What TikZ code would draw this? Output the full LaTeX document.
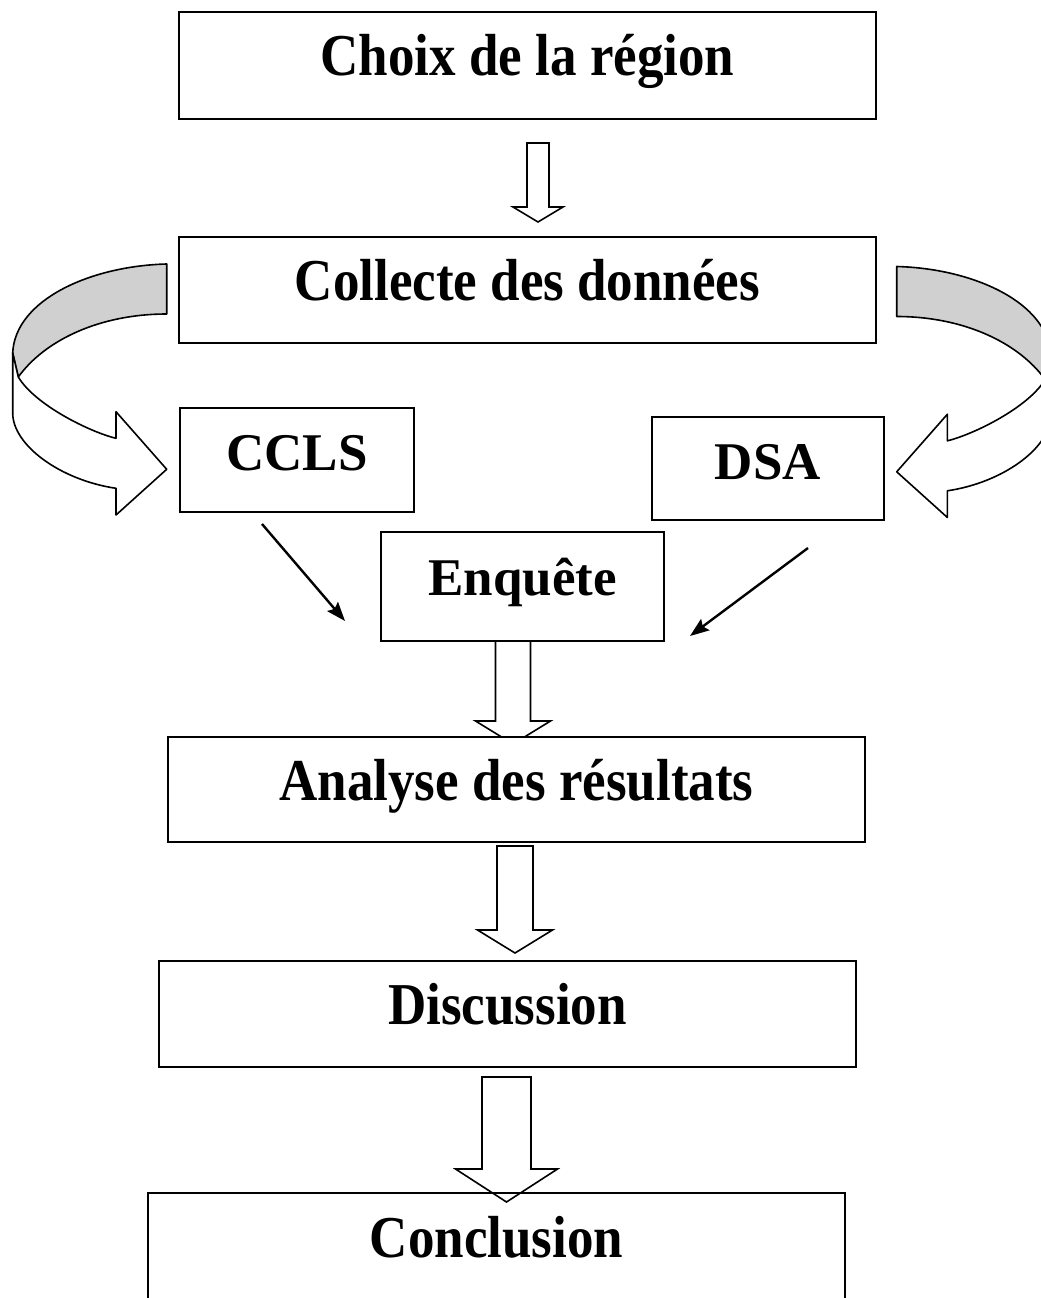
\documentclass[tikz,border=0pt]{standalone}
\usepackage{fontspec}
\setmainfont{Liberation Serif}
\usetikzlibrary{arrows.meta}
\definecolor{ribbon}{RGB}{208,208,208}
\newcommand\hollowdown[6]{%
  \draw[harrow] ({#1-#5},#2) -- ({#1+#5},#2) -- ({#1+#5},#3) -- ({#1+#6},#3) -- (#1,#4) -- ({#1-#6},#3) -- ({#1-#5},#3) -- cycle;}
\newcommand\curlarrow{%
  \draw[band, fill=ribbon] (166.7,264) .. controls (90,266) and (15,300) .. (12.7,353)
     -- (18.3,377) .. controls (45,340) and (100,314) .. (166.7,314) -- cycle;
  \draw[band, fill=white] (12.7,353) -- (12.7,413) .. controls (12.7,445) and (60,480) .. (116,488.3)
     -- (116,515) -- (166.7,469.3) -- (116,411.7) -- (116,438.3)
     .. controls (90,432) and (35,405) .. (18.3,377) -- cycle;}
\begin{document}
\begin{tikzpicture}[x=1pt,y=-1pt,
  box/.style={draw, line width=1.8pt, fill=white, inner sep=0pt, text depth=0pt,
     font=\fontsize{53}{60}\selectfont\bfseries},
  harrow/.style={draw, line width=1.6pt, fill=white, line join=miter},
  thinarrow/.style={line width=2.4pt, -{Stealth[length=19pt,width=14pt,inset=3pt]}},
  band/.style={line width=1.6pt, line join=round}]
\useasboundingbox (0,0) rectangle (1041,1298);
\clip (0,0) rectangle (1041,1298);

% curled arrows
\curlarrow
\begin{scope}[xshift=1063.4pt, yshift=-2.5pt, xscale=-1]
  \curlarrow
\end{scope}

% hollow straight arrows
\hollowdown{538}{143}{207}{222}{11}{25}
\hollowdown{513}{641}{721}{744}{17.5}{37.5}
\hollowdown{515}{846}{930}{953}{18}{37.5}
\hollowdown{506.5}{1077}{1169}{1202}{24.5}{51}

% boxes
\node[box, minimum width=697pt, minimum height=107pt, text height=19pt] (choix) at (527.5,65.5)
  {\scalebox{1}[1.12]{Choix de la région}};
\node[box, minimum width=697pt, minimum height=106pt, text height=20pt] (collecte) at (527.5,290)
  {\scalebox{1}[1.12]{Collecte des données}};
\node[box, minimum width=234pt, minimum height=104pt, text height=20pt] (ccls) at (297,460) {CCLS};
\node[box, minimum width=232pt, minimum height=103pt, text height=21pt] (dsa) at (768,468.5) {DSA};
\node[box, minimum width=283pt, minimum height=109pt, text height=17pt] (enquete) at (522.5,586.5) {Enquête};
\node[box, minimum width=697pt, minimum height=105pt, text height=21pt] (analyse) at (516.5,789.5)
  {\scalebox{1}[1.12]{Analyse des résultats}};
\node[box, minimum width=697pt, minimum height=106pt, text height=20pt] (discussion) at (507.5,1014)
  {\scalebox{1}[1.12]{Discussion}};
\node[box, fill=none, minimum width=697pt, minimum height=106pt, text height=22pt] (conclusion) at (496.5,1246)
  {\scalebox{1}[1.12]{Conclusion}};

% thin arrows
\coordinate (a1s) at (262,524);
\coordinate (a1e) at (345,621);
\coordinate (a2s) at (808,548);
\coordinate (a2e) at (690,636);
\draw[thinarrow] (a1s) -- (a1e);
\draw[thinarrow] (a2s) -- (a2e);
\end{tikzpicture}
\end{document}
